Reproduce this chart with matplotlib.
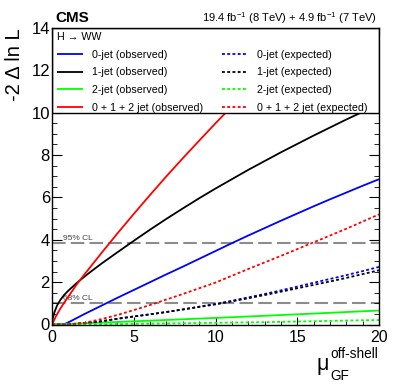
import matplotlib
matplotlib.use("Agg")
import matplotlib.pyplot as plt
from matplotlib.patches import Rectangle
import numpy as np

plt.rcParams['font.family'] = ['Liberation Sans', 'DejaVu Sans']

# ---- data ----
mu_grid = [0, 1, 2, 3, 4, 5, 6, 7, 8, 9, 10, 11, 12, 13, 14, 15, 16, 17, 18, 19, 20]

# observed
obs0_mu = [0, 0.5, 0.8, 1, 2, 3, 4, 5, 6, 7, 8, 9, 10, 11, 12, 13, 14, 15, 16, 17, 18, 19, 20]
obs0_val = [0, 0.0, 0.03, 0.1, 0.5, 0.88, 1.26, 1.63, 2.0, 2.37, 2.73, 3.1, 3.47, 3.84, 4.2,
            4.55, 4.9, 5.24, 5.58, 5.91, 6.23, 6.55, 6.86]

obs1_mu = [0, 0.05, 0.15, 0.3, 0.5, 0.75, 1, 1.5, 2, 2.5, 3, 4, 5, 6, 7, 8, 9, 10, 12, 14,
           16, 18, 20]
obs1_val = [0, 0.3, 0.58, 0.88, 1.15, 1.4, 1.6, 1.95, 2.27, 2.57, 2.86, 3.41, 3.95, 4.48,
            4.99, 5.48, 5.96, 6.42, 7.3, 8.13, 8.92, 9.68, 10.4]

obs2_mu = [0, 1, 2, 5, 10, 15, 20]
obs2_val = [0, 0.03, 0.06, 0.15, 0.31, 0.48, 0.66]

obs012_mu = [0, 0.25, 0.5, 0.75, 1, 1.5, 2, 3, 4, 5, 6, 7, 8, 9, 10, 11, 12]
obs012_val = [0, 0.4, 0.74, 1.03, 1.32, 1.88, 2.38, 3.35, 4.3, 5.22, 6.12, 7.0, 7.85, 8.68,
              9.5, 10.3, 11.1]

# expected
exp0_val = [0, 0.01, 0.06, 0.15, 0.27, 0.38, 0.48, 0.59, 0.71, 0.84, 0.97, 1.12, 1.28, 1.44,
            1.61, 1.79, 1.97, 2.15, 2.33, 2.52, 2.72]
exp1_val = [0, 0.01, 0.06, 0.15, 0.27, 0.38, 0.48, 0.59, 0.71, 0.83, 0.95, 1.09, 1.24, 1.39,
            1.55, 1.71, 1.87, 2.03, 2.2, 2.38, 2.56]
exp2_val = [0, 0.005, 0.01, 0.015, 0.022, 0.03, 0.04, 0.05, 0.06, 0.07, 0.08, 0.09, 0.1,
            0.11, 0.125, 0.14, 0.155, 0.17, 0.185, 0.2, 0.21]
exp012_val = [0, 0.0, 0.08, 0.25, 0.45, 0.68, 0.92, 1.18, 1.44, 1.71, 1.98, 2.3, 2.62, 2.93,
              3.24, 3.56, 3.88, 4.2, 4.52, 4.86, 5.2]

labels_obs = ['0-jet (observed)', '1-jet (observed)', '2-jet (observed)',
              '0 + 1 + 2 jet (observed)']
labels_exp = ['0-jet (expected)', '1-jet (expected)', '2-jet (expected)',
              '0 + 1 + 2 jet (expected)']
colors = ['#0000ff', '#000000', '#00ff00', '#ff0000']

cl_levels = [1.0, 3.84]
cl_labels = ['68% CL', '95% CL']

# ---- figure ----
W, H = 399, 385
fig = plt.figure(figsize=(W / 100, H / 100), dpi=100)
ax = fig.add_axes([52 / W, 1 - 324.5 / H, (379 - 52) / W, (324.5 - 28) / H])

lw = 1.3
obs_sets = [(obs0_mu, obs0_val), (obs1_mu, obs1_val), (obs2_mu, obs2_val), (obs012_mu, obs012_val)]
exp_sets = [exp0_val, exp1_val, exp2_val, exp012_val]

handles = []
for (m, v), c, lab in zip(obs_sets, colors, labels_obs):
    h, = ax.plot(m, v, color=c, lw=lw, label=lab, zorder=2, solid_capstyle='butt',
                 solid_joinstyle='round')
    handles.append(h)
for v, c, lab in zip(exp_sets, colors, labels_exp):
    h, = ax.plot(mu_grid, v, color=c, lw=lw, ls=(0, (1.6, 1.3)), label=lab, zorder=2)
    handles.append(h)

for lev, lab in zip(cl_levels, cl_labels):
    ax.axhline(lev, color='#8c8c8c', lw=1.5, dashes=(6.5, 2.5), zorder=1)
    ax.text(0.65, lev + 0.06, lab, fontsize=6, color='#444444', ha='left', va='bottom', zorder=1)

ax.set_xlim(0, 20)
ax.set_ylim(0, 14)

# legend box covering 10..14
ax.add_patch(Rectangle((0, 10), 20, 4, facecolor='white', edgecolor='black', lw=1.0,
                       zorder=3))

leg = ax.legend(handles=handles, ncol=2, loc='upper left',
                bbox_to_anchor=(5 / 327, 1 - 4 / 296.5), frameon=False,
                fontsize=7.7, handlelength=2.4, handletextpad=0.85, columnspacing=1.8,
                labelspacing=0.72, borderpad=0, borderaxespad=0,
                title='H → WW', title_fontsize=7.7, alignment='left')
leg.set_zorder(5)

ax.set_xticks([0, 5, 10, 15, 20])
ax.set_xticks(np.arange(0, 21, 1), minor=True)
ax.set_yticks([0, 2, 4, 6, 8, 10, 12, 14])
ax.set_yticks(np.arange(0, 14.01, 0.5), minor=True)
ax.tick_params(axis='both', which='both', direction='in', top=True, right=True)
ax.tick_params(axis='y', which='major', length=7.2, labelsize=12, pad=1.5)
ax.tick_params(axis='y', which='minor', length=3.6)
ax.tick_params(axis='x', which='major', length=5.8, labelsize=11.5, pad=4)
ax.tick_params(axis='x', which='minor', length=2.9)
for s in ax.spines.values():
    s.set_linewidth(1.0)
    s.set_zorder(6)

# titles / labels
fig.text(55 / W, 1 - 22 / H, 'CMS', fontsize=11, fontweight='bold', ha='left', va='baseline')
fig.text(377 / W, 1 - 22 / H, r'19.4 fb$^{\mathregular{-1}}$ (8 TeV) + 4.9 fb$^{\mathregular{-1}}$ (7 TeV)',
         fontsize=8, ha='right', va='baseline')
fig.text(14 / W, 1 - 28 / H, '-2 Δ ln L', fontsize=14.5, rotation=90, ha='center', va='top')

fig.text(329 / W, 1 - 370 / H, 'μ', fontsize=15.5, ha='right', va='baseline')
fig.text(330 / W, 1 - 358 / H, 'off-shell', fontsize=9.8, ha='left', va='baseline')
fig.text(330 / W, 1 - 380 / H, 'GF', fontsize=9.8, ha='left', va='baseline')

fig.savefig('out.png', dpi=100)
